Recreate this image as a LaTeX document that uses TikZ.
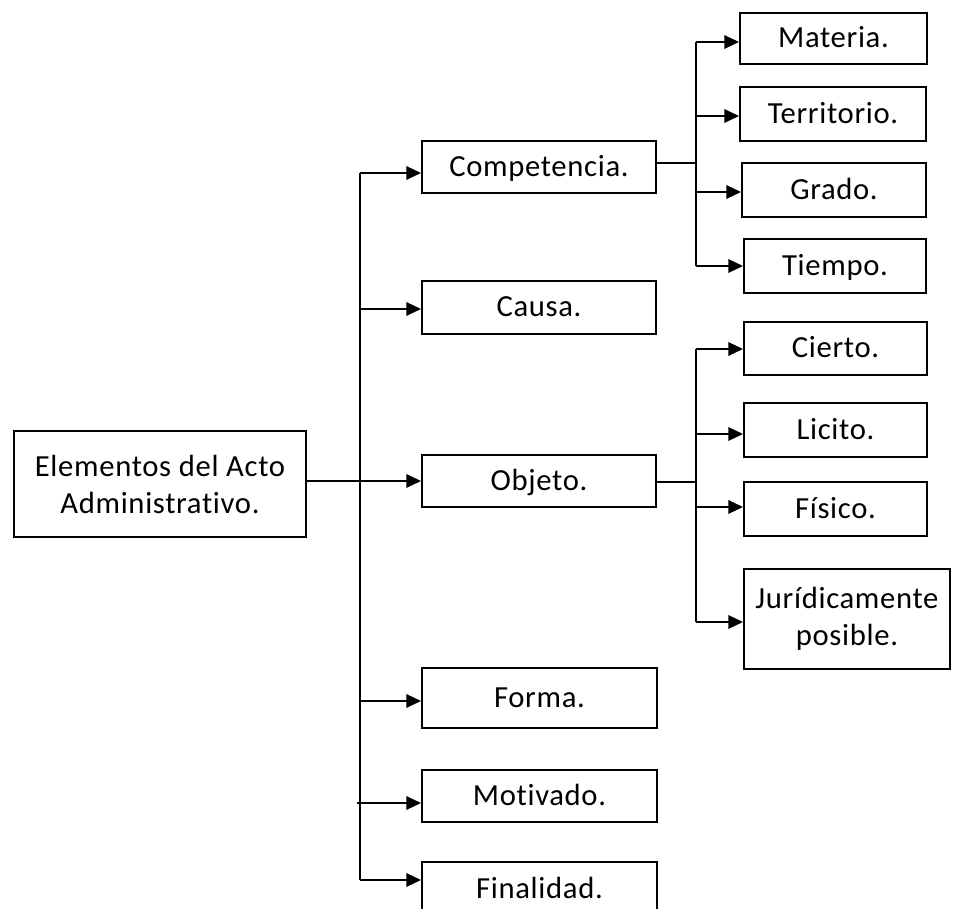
\documentclass[tikz,border=0pt]{standalone}
\usepackage{fontspec}
\setmainfont[Ligatures={NoCommon},LetterSpace=2.2]{Carlito}
\usetikzlibrary{arrows.meta}
\begin{document}
\begin{tikzpicture}[x=0.75pt,y=-0.75pt,
  box/.style={draw,line width=1.4pt,inner sep=0pt,align=center,
    font=\fontsize{23}{27.75}\selectfont},
  one/.style={text height=14.8pt,text depth=1pt},
  link/.style={line width=1.4pt},
  arr/.style={link,-{Triangle[length=11pt,width=10pt]}}]
\clip (0,0) rectangle (961,909);
\useasboundingbox (0,0) rectangle (961,909);

% first level
\node[box,minimum width=292*0.75pt,minimum height=106*0.75pt] (root) at (160,484) {Elementos del Acto\\Administrativo.};
\node[box,one,minimum width=234*0.75pt,minimum height=52*0.75pt] (comp) at (539,167) {Competencia.};
\node[box,one,minimum width=234*0.75pt,minimum height=53*0.75pt] (causa) at (539,307.5) {Causa.};
\node[box,one,minimum width=234*0.75pt,minimum height=52*0.75pt] (obj) at (539,481) {Objeto.};
\node[box,one,minimum width=235*0.75pt,minimum height=60*0.75pt] (forma) at (539.5,698) {Forma.};
\node[box,one,minimum width=235*0.75pt,minimum height=52*0.75pt] (motiv) at (539.5,796) {Motivado.};
\node[box,minimum width=235*0.75pt,minimum height=56*0.75pt] (final) at (539.5,890) {};
\node[font=\fontsize{23}{27.75}\selectfont,anchor=base] (finaltxt) at (539.5,898) {Finalidad.};

% competencia branches
\node[box,one,minimum width=187*0.75pt,minimum height=51*0.75pt] (mat) at (833.5,38.5) {Materia.};
\node[box,one,minimum width=186*0.75pt,minimum height=54*0.75pt] (ter) at (833,114) {Territorio.};
\node[box,one,minimum width=184*0.75pt,minimum height=54*0.75pt] (gra) at (834,190) {Grado.};
\node[box,one,minimum width=182*0.75pt,minimum height=54*0.75pt] (tie) at (835,266) {Tiempo.};

% objeto branches
\node[box,one,minimum width=183*0.75pt,minimum height=53*0.75pt] (cie) at (835.5,348.5) {Cierto.};
\node[box,one,minimum width=183*0.75pt,minimum height=54*0.75pt] (lic) at (835.5,430) {Licito.};
\node[box,one,minimum width=183*0.75pt,minimum height=54*0.75pt] (fis) at (835.5,509) {Físico.};
\node[box,minimum width=206*0.75pt,minimum height=100*0.75pt] (jur) at (847,619) {Jurídicamente\\posible.};

% main trunk
\coordinate (t1) at (360,173);
\coordinate (t2) at (360,309);
\coordinate (t3) at (360,481);
\coordinate (t4) at (360,701);
\coordinate (t5) at (357,803);
\coordinate (t6) at (360,880);
\draw[link] (t1) -- (t6);
\draw[link] (root.east |- t3) -- (t3);
\draw[arr] (t1) -- (t1 -| comp.west);
\draw[arr] (t2) -- (t2 -| causa.west);
\draw[arr] (t3) -- (t3 -| obj.west);
\draw[arr] (t4) -- (t4 -| forma.west);
\draw[arr] (t5) -- (t5 -| motiv.west);
\draw[arr] (t6) -- (t6 -| final.west);

% competencia sub-trunk
\coordinate (c0) at (696,163);
\coordinate (c1) at (696,42);
\coordinate (c2) at (696,116);
\coordinate (c3) at (696,192);
\coordinate (c4) at (696,266);
\draw[link] (comp.east |- c0) -- (c0);
\draw[link] (c1) -- (c4);
\draw[arr] (c1) -- (c1 -| mat.west);
\draw[arr] (c2) -- (c2 -| ter.west);
\draw[arr] (c3) -- (c3 -| gra.west);
\draw[arr] (c4) -- (c4 -| tie.west);

% objeto sub-trunk
\coordinate (o0) at (696,482);
\coordinate (o1) at (696,349);
\coordinate (o2) at (696,434);
\coordinate (o3) at (696,507);
\coordinate (o4) at (696,622);
\draw[link] (obj.east |- o0) -- (o0);
\draw[link] (o1) -- (o4);
\draw[arr] (o1) -- (o1 -| cie.west);
\draw[arr] (o2) -- (o2 -| lic.west);
\draw[arr] (o3) -- (o3 -| fis.west);
\draw[arr] (o4) -- (o4 -| jur.west);
\end{tikzpicture}
\end{document}
